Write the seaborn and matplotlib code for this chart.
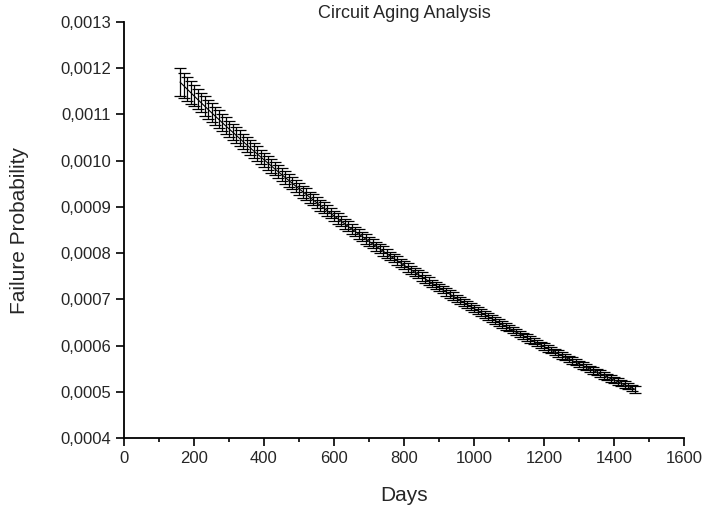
import numpy as np
import matplotlib
matplotlib.use('Agg')
import matplotlib.pyplot as plt
import seaborn as sns
from matplotlib.ticker import FuncFormatter, MultipleLocator

sns.set_theme(style='ticks')
plt.rcParams['font.family'] = ['Liberation Sans', 'DejaVu Sans']

# days sampled every 10 days
days = list(range(160, 1461, 10))
# failure probability, in units of 1e-6
prob_e6 = [
    1170.0, 1162.5, 1155.0, 1147.6, 1140.2, 1132.8, 1125.5, 1118.3, 1111.1, 1103.9,
    1096.8, 1089.7, 1082.7, 1075.7, 1068.8, 1061.9, 1055.1, 1048.3, 1041.5, 1034.8,
    1028.1, 1021.5, 1014.9, 1008.4, 1001.9, 995.5, 989.1, 982.7, 976.4, 970.1,
    963.9, 957.7, 951.5, 945.4, 939.3, 933.2, 927.2, 921.2, 915.3, 909.4,
    903.5, 897.7, 891.9, 886.2, 880.5, 874.8, 869.2, 863.6, 858.0, 852.5,
    847.0, 841.5, 836.1, 830.7, 825.4, 820.1, 814.8, 809.6, 804.4, 799.2,
    794.1, 789.0, 783.9, 778.8, 773.8, 768.8, 763.9, 759.0, 754.1, 749.2,
    744.4, 739.6, 734.8, 730.1, 725.4, 720.7, 716.1, 711.5, 706.9, 702.3,
    697.8, 693.3, 688.8, 684.4, 680.0, 675.6, 671.3, 667.0, 662.7, 658.4,
    654.2, 650.0, 645.8, 641.6, 637.5, 633.4, 629.3, 625.2, 621.2, 617.2,
    613.2, 609.3, 605.4, 601.5, 597.6, 593.8, 590.0, 586.2, 582.4, 578.7,
    575.0, 571.3, 567.6, 564.0, 560.4, 556.8, 553.2, 549.6, 546.1, 542.6,
    539.1, 535.6, 532.2, 528.8, 525.4, 522.0, 518.6, 515.3, 512.0, 508.7,
    505.4,
]
# error bar half-width, in units of 1e-6
err_e6 = [
    30, 27, 25, 24, 23, 22, 21, 21, 20, 20,
    19, 19, 19, 18, 18, 18, 17, 17, 17, 16,
    16, 16, 16, 15, 15, 15, 15, 14, 14, 14,
    14, 14, 13, 13, 13, 13, 13, 12, 12, 12,
    12, 12, 12, 11, 11, 11, 11, 11, 11, 11,
    10, 10, 10, 10, 10, 10, 10, 10, 10, 9,
    9, 9, 9, 9, 9, 9, 9, 9, 9, 9,
    9, 8, 8, 8, 8, 8, 8, 8, 8, 8,
    8, 8, 8, 8, 8, 8, 8, 8, 8, 8,
    8, 8, 8, 8, 7, 7, 7, 7, 7, 7,
    7, 7, 7, 7, 7, 7, 7, 7, 7, 7,
    7, 7, 7, 7, 7, 7, 7, 7, 7, 7,
    7, 7, 7, 7, 7, 7, 7, 7, 7, 7,
    7,
]

x = np.array(days)
y = np.array(prob_e6) * 1e-6
e = np.array(err_e6) * 1e-6

fig = plt.figure(figsize=(7.1, 5.13), dpi=100)
ax = fig.add_axes([124/710, 75/513, 560/710, 416/513])

sns.lineplot(x=x, y=y, ax=ax, color='black', lw=0.8)
ax.errorbar(x, y, yerr=e, fmt='none', ecolor='black', elinewidth=0.9,
            capsize=4, capthick=0.9)

ax.set_xlim(0, 1600)
ax.set_ylim(0.0004, 0.0013)
ax.xaxis.set_major_locator(MultipleLocator(200))
ax.xaxis.set_minor_locator(MultipleLocator(100))
ax.yaxis.set_major_locator(MultipleLocator(0.0001))
ax.yaxis.set_major_formatter(FuncFormatter(lambda v, p: f'{v:.4f}'.replace('.', ',')))
ax.tick_params(which='major', length=6, width=1.2, direction='out', labelsize=12, color='black')
ax.tick_params(which='minor', length=3, width=1.2, direction='out', color='black')
for s in ['top', 'right']:
    ax.spines[s].set_visible(False)
for s in ['left', 'bottom']:
    ax.spines[s].set_linewidth(1.3)
    ax.spines[s].set_color('black')

ax.set_xlabel('Days', fontsize=15, labelpad=14)
ax.set_ylabel('Failure Probability', fontsize=15, labelpad=22)
ax.set_title('Circuit Aging Analysis', fontsize=13, pad=-6)

fig.savefig('out.png', dpi=100)
